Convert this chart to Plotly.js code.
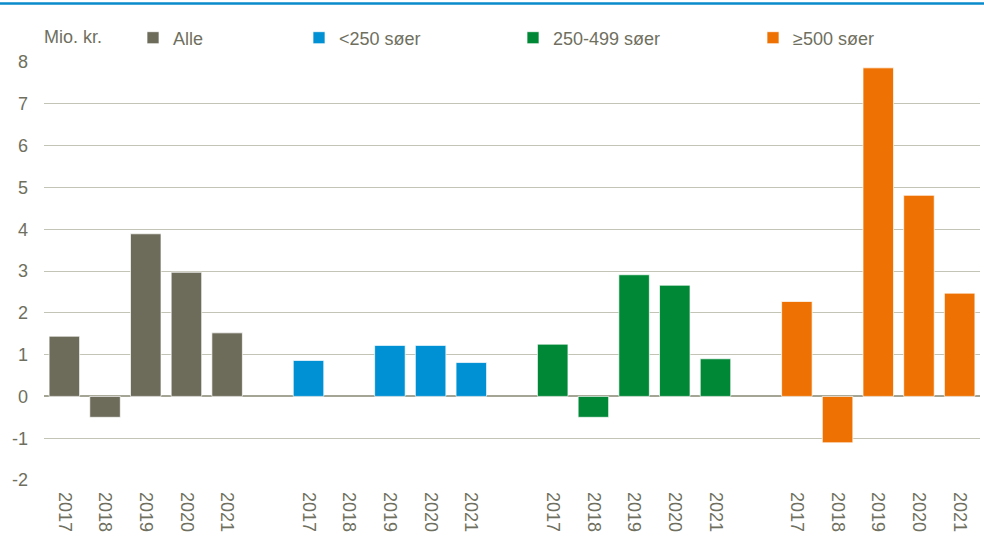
<!DOCTYPE html>
<html>
<head>
<meta charset="utf-8">
<script src="https://cdn.plot.ly/plotly-3.0.1.min.js"></script>
<style>
html,body{margin:0;padding:0;background:#fff;}
#chart{width:984px;height:537px;}
</style>
</head>
<body>
<div id="chart"></div>
<script>
// ---- data ----
const years = ['2017', '2018', '2019', '2020', '2021'];
const groupNames = ['Alle', '<250 søer', '250-499 søer', '≥500 søer'];
const alle = [1.44, -0.50, 3.89, 2.97, 1.52];
const under250 = [0.86, null, 1.22, 1.22, 0.81];
const s250to499 = [1.25, -0.50, 2.91, 2.66, 0.90];
const over500 = [2.27, -1.11, 7.86, 4.81, 2.47];
const yTicks = [-2, -1, 0, 1, 2, 3, 4, 5, 6, 7, 8];
const yTickLabels = ['-2', '-1', '0', '1', '2', '3', '4', '5', '6', '7', '8'];

// ---- styles ----
const colors = ['#6D6B5A', '#0090D4', '#008837', '#EE7203'];
const textColor = '#6F6F60';
const font = 'Liberation Sans, Arial, sans-serif';
const series = [alle, under250, s250to499, over500];
const slot = years.length + 1; // one empty slot between groups

const legendX = [133, 299, 513, 753];
const traces = series.map((vals, g) => ({
  type: 'bar',
  name: groupNames[g],
  x: years.map((_, i) => g * slot + i),
  y: vals,
  width: 0.75,
  marker: {color: colors[g], line: {color: 'rgba(255,255,255,0.7)', width: 1}},
  legend: g === 0 ? 'legend' : 'legend' + (g + 1),
  hoverinfo: 'y'
}));

const tickvals = [];
const ticktext = [];
groupNames.forEach((_, g) => years.forEach((yr, i) => { tickvals.push(g * slot + i); ticktext.push(yr); }));

const W = 984, H = 537;
const mkLegend = (px) => ({
  xref: 'container', yref: 'container',
  x: px / W, y: 1 - 38 / H, xanchor: 'left', yanchor: 'middle',
  orientation: 'h', bgcolor: 'rgba(0,0,0,0)',
  font: {family: font, size: 18, color: textColor}
});

const layout = {
  width: W, height: H,
  margin: {l: 44, r: 4, t: 62, b: 57},
  paper_bgcolor: '#fff', plot_bgcolor: '#fff',
  font: {family: font, size: 18, color: textColor},
  barmode: 'overlay',
  showlegend: true,
  legend: mkLegend(legendX[0]),
  legend2: mkLegend(legendX[1]),
  legend3: mkLegend(legendX[2]),
  legend4: mkLegend(legendX[3]),
  xaxis: {
    range: [-0.5, tickvals[tickvals.length - 1] + 0.5],
    tickmode: 'array', tickvals: tickvals, ticktext: ticktext,
    tickangle: 90, showgrid: false, zeroline: false, showline: false,
    ticks: '', ticklabelstandoff: 11,
    tickfont: {family: font, size: 18, color: textColor}
  },
  yaxis: {
    range: [-2, 8], tickmode: 'array', tickvals: yTicks, ticktext: yTickLabels,
    showgrid: true, gridcolor: '#C4C4B6', gridwidth: 1,
    zeroline: true, zerolinecolor: '#A5A595', zerolinewidth: 2,
    showline: false, ticks: '', ticklabelstandoff: 15,
    tickfont: {family: font, size: 18, color: textColor}
  },
  annotations: [{
    text: 'Mio. kr.', xref: 'paper', yref: 'paper',
    x: -2 / 936, y: (480 - 37) / 418, xanchor: 'left', yanchor: 'middle',
    showarrow: false, font: {family: font, size: 18, color: textColor}
  }],
  shapes: [{
    type: 'line', xref: 'paper', yref: 'paper',
    x0: -44 / 936, x1: 1 + 4 / 936, y0: (480 - 3.5) / 418, y1: (480 - 3.5) / 418,
    line: {color: '#0A8BCB', width: 2.5}
  }]
};

Plotly.newPlot('chart', traces, layout, {displayModeBar: false, staticPlot: true});
</script>
</body>
</html>
